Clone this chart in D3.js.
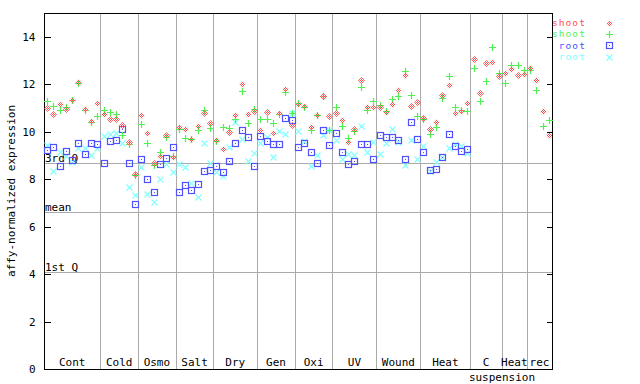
<!DOCTYPE html>
<html>
<head>
<meta charset="utf-8">
<script src="https://cdn.jsdelivr.net/npm/d3@7"></script>
<style>
html,body{margin:0;padding:0;background:#fff;}
svg{display:block;}
text{font-family:"DejaVu Sans Mono","Liberation Mono",monospace;font-size:11px;}
</style>
</head>
<body>
<svg id="chart" width="640" height="384"></svg>
<script>
const groups = ["Cont","Cold","Osmo","Salt","Dry","Gen","Oxi","UV","Wound","Heat","C","Heat","rec"];
const groupSizes = [9,6,6,6,7,6,6,7,7,8,5,4,4];
const yTicks = [0,2,4,6,8,10,12,14];
const refLines = [["3rd Q",8.67],["mean",6.61],["1st Q",4.08]];
const seriesNames = ["shoot","shoot","root","root"];

const shootA = [11.01,10.74,11.16,10.97,11.32,12.10,10.95,10.43,11.21,
  10.74,10.53,10.53,10.28,9.56,8.20,
  10.70,9.94,8.67,8.97,9.86,8.95,
  10.19,10.11,9.69,10.24,10.78,10.36,
  9.64,9.27,9.98,10.70,12.01,10.74,10.87,
  10.07,10.83,9.94,10.78,11.80,10.28,
  11.16,11.08,10.19,10.70,11.50,10.66,
  10.78,10.49,9.56,10.11,12.18,11.04,11.04,
  11.04,10.83,11.16,11.75,12.39,11.08,11.25,
  10.57,10.11,10.40,11.54,11.97,10.78,10.87,11.21,
  13.06,11.63,12.89,12.94,12.34,
  12.47,12.64,12.39,12.43,
  12.68,12.18,10.87,9.86];
const shootB = [11.30,11.08,10.92,11.04,11.35,12.06,10.92,10.39,10.66,
  10.92,10.84,10.74,9.86,9.48,8.19,
  10.32,9.52,8.61,9.14,9.79,8.99,
  10.11,9.73,9.69,10.07,10.91,10.15,
  9.60,10.19,10.15,10.53,11.71,10.36,10.95,
  10.53,10.53,10.36,10.74,11.67,10.78,
  11.21,11.04,10.07,10.70,11.50,10.07,
  11.04,10.24,9.73,10.02,11.88,10.91,11.29,
  11.12,10.87,11.37,11.50,12.56,11.54,10.66,
  10.53,9.90,10.19,11.42,12.34,11.04,10.91,10.87,
  12.68,11.29,12.13,13.57,12.47,
  12.05,12.81,12.81,12.60,
  12.60,11.75,10.24,10.49];
const rootA = [9.22,9.35,8.55,9.17,8.80,9.52,9.06,9.52,9.48,
  8.67,9.60,9.64,10.11,8.67,6.96,
  8.84,8.00,7.45,8.63,8.89,9.35,
  7.45,7.75,7.54,7.79,8.34,8.38,
  8.55,8.30,8.76,9.52,10.07,9.77,8.55,
  9.81,9.60,9.48,9.48,10.57,10.49,
  9.35,9.52,9.14,8.67,10.07,9.43,
  9.94,9.14,8.63,8.76,9.48,9.48,8.84,
  9.86,9.77,9.77,9.64,8.84,10.40,9.69,
  9.14,8.38,8.42,8.93,9.90,9.39,9.18,9.27,
  null,null,null,null,null,null,null,null,null,null,null,null,null];
const rootB = [9.43,8.35,9.14,8.96,8.73,9.31,9.31,9.01,9.31,
  9.81,9.90,9.94,9.52,7.66,7.33,
  8.51,7.37,7.03,8.00,8.63,8.30,
  8.63,8.51,7.83,7.24,9.52,8.67,
  8.30,8.13,9.35,10.40,9.69,8.76,9.10,
  9.52,9.77,8.93,10.02,9.90,10.78,
  10.02,9.60,8.55,9.01,9.86,10.05,
  9.64,8.84,9.06,9.01,10.24,9.14,9.56,
  9.06,9.52,10.11,9.56,8.59,9.64,8.84,
  9.39,8.34,8.72,8.93,9.31,9.48,9.39,9.10,
  null,null,null,null,null,null,null,null,null,null,null,null,null];

const colors = ["#ff5050","#50f050","#5050ff","#80ffff"];
const shapes = ["diamond","plus","square","cross"];
const series = [shootA, shootB, rootA, rootB];

const L = 44, R = 552, T = 13, B = 369;
const svg = d3.select("#chart");
const n = shootA.length;
const x = d3.scaleBand().domain(d3.range(n)).range([L, R]).padding(0);
const y = d3.scaleLinear().domain([0, 15]).range([B, T]);

const defs = svg.append("defs");
const pat = defs.append("pattern").attr("id","chk").attr("width",2).attr("height",2)
  .attr("patternUnits","userSpaceOnUse");
pat.append("rect").attr("x",0).attr("y",0).attr("width",1).attr("height",1).attr("fill",colors[0]);
pat.append("rect").attr("x",1).attr("y",1).attr("width",1).attr("height",1).attr("fill",colors[0]);

const bounds = [];
let acc = 0;
groupSizes.forEach((s, i) => { bounds.push({name: groups[i], start: acc, end: acc + s}); acc += s; });

const gGrid = svg.append("g").attr("shape-rendering","crispEdges");
bounds.slice(0, -1).forEach(b => {
  const xx = Math.round(x(b.end)) + 0.5;
  gGrid.append("line").attr("x1", xx).attr("x2", xx).attr("y1", T).attr("y2", B)
    .attr("stroke", "#aaaaaa").attr("stroke-width", 1);
});
refLines.forEach(([lab, v]) => {
  const yy = Math.round(y(v)) + 0.5;
  gGrid.append("line").attr("x1", L).attr("x2", R).attr("y1", yy).attr("y2", yy)
    .attr("stroke", "#aaaaaa").attr("stroke-width", 1);
  svg.append("text").attr("x", L + 1).attr("y", Math.round(y(v)) - 1).text(lab).attr("fill","#000");
});

const axL = svg.append("g").attr("transform", `translate(${L + 0.5},0)`)
  .call(d3.axisLeft(y).tickValues(yTicks).tickSizeInner(-6).tickSizeOuter(0).tickPadding(9).tickFormat(d3.format("d")));
const axR = svg.append("g").attr("transform", `translate(${R + 0.5},0)`)
  .call(d3.axisRight(y).tickValues(yTicks).tickSizeInner(-6).tickSizeOuter(0).tickFormat(""));
[axL, axR].forEach(a => {
  a.attr("shape-rendering","crispEdges");
  a.selectAll("path").remove();
  a.selectAll("line").attr("stroke","#000");
  a.selectAll("text").attr("fill","#000").style("font-family",'"DejaVu Sans Mono",monospace').style("font-size","11px");
});
const fr = svg.append("g").attr("shape-rendering","crispEdges").attr("stroke","#000").attr("stroke-width",1.5);
fr.append("line").attr("x1", L).attr("x2", R + 1).attr("y1", T + 0.5).attr("y2", T + 0.5);
fr.append("line").attr("x1", L).attr("x2", R + 1).attr("y1", B + 0.5).attr("y2", B + 0.5);
fr.append("line").attr("x1", L + 0.5).attr("x2", L + 0.5).attr("y1", T).attr("y2", B + 1);
fr.append("line").attr("x1", R + 0.5).attr("x2", R + 0.5).attr("y1", T).attr("y2", B + 1);

bounds.forEach(b => {
  const cx = (x(b.start) + x(b.end - 1) + x.bandwidth()) / 2;
  svg.append("text").attr("x", cx).attr("y", 366).attr("text-anchor","middle").text(b.name);
});
svg.append("text").attr("x", 502).attr("y", 381).attr("text-anchor","middle").text("suspension");

svg.append("text").attr("transform", `translate(15,${(T + B) / 2}) rotate(-90)`)
  .attr("text-anchor","middle").text("affy-normalized expression");

function drawMarker(g, shape, cx, cy, color) {
  cx = Math.round(cx) + 0.5; cy = Math.round(cy) + 0.5;
  const s = 3;
  if (shape === "diamond") {
    g.append("path").attr("d", `M${cx},${cy - s - 0.5}L${cx + s + 0.5},${cy}L${cx},${cy + s + 0.5}L${cx - s - 0.5},${cy}Z`)
      .attr("fill","url(#chk)").attr("stroke", "none");
  } else if (shape === "plus") {
    g.append("path").attr("d", `M${cx - s - 0.5},${cy}H${cx + s + 0.5}M${cx},${cy - s - 0.5}V${cy + s + 0.5}`)
      .attr("stroke", color).attr("stroke-width", 1.2).attr("fill","none");
  } else if (shape === "square") {
    g.append("rect").attr("x", cx - s).attr("y", cy - s).attr("width", 2 * s).attr("height", 2 * s)
      .attr("fill","none").attr("stroke", color).attr("stroke-width", 1.2);
    g.append("rect").attr("x", cx - 0.5).attr("y", cy - 0.5).attr("width", 1).attr("height", 1).attr("fill", color);
  } else {
    g.append("path").attr("d", `M${cx - s},${cy - s}L${cx + s},${cy + s}M${cx - s},${cy + s}L${cx + s},${cy - s}`)
      .attr("stroke", color).attr("stroke-width", 1.1).attr("fill","none");
  }
}
const gm = svg.append("g");
[3, 2, 1, 0].forEach(si => {
  series[si].forEach((v, i) => {
    if (v == null) return;
    drawMarker(gm, shapes[si], x(i) + x.bandwidth() / 2, y(v), colors[si]);
  });
});

seriesNames.forEach((nm, i) => {
  const yy = 22.5 + i * 11.4;
  svg.append("text").attr("x", 586).attr("y", yy + 3.5).attr("text-anchor","end")
    .attr("fill", colors[i]).style("font-size","9.5px").style("letter-spacing","1.1px").text(nm);
  drawMarker(svg, shapes[i], 609, yy, colors[i]);
});
</script>
</body>
</html>
